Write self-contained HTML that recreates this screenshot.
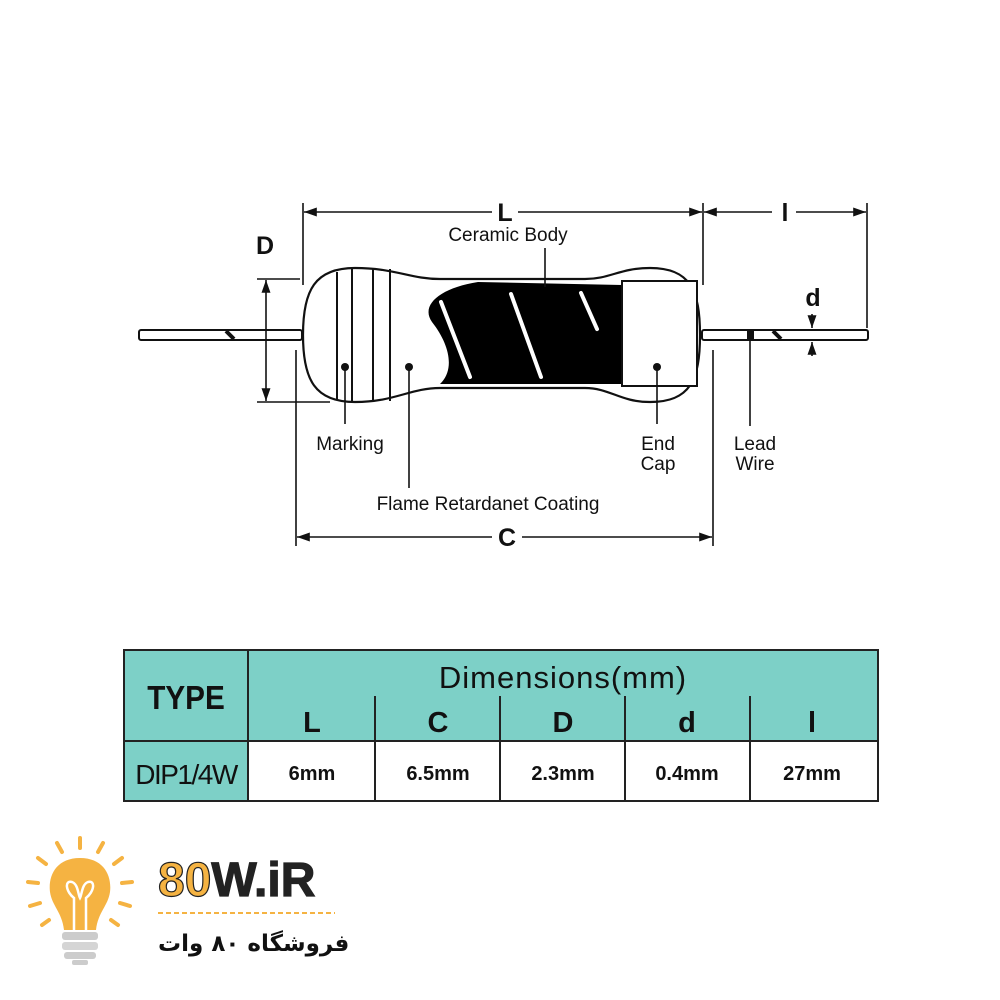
<!DOCTYPE html>
<html><head><meta charset="utf-8"><style>
html,body{margin:0;padding:0;background:#fff;width:1000px;height:1000px;overflow:hidden}
svg{position:absolute;left:0;top:0}
text{font-family:"Liberation Sans",sans-serif;fill:#111}
</style></head><body>
<svg width="1000" height="1000" viewBox="0 0 1000 1000" xmlns="http://www.w3.org/2000/svg">
<defs>
<marker id="ar" viewBox="0 0 10 10" refX="10" refY="5" markerWidth="8" markerHeight="8" orient="auto-start-reverse"><path d="M0,1.5 L10,5 L0,8.5 Z" fill="#111"/></marker>
</defs>
<g stroke="#111" stroke-width="2" fill="none">
<rect x="139" y="330" width="163" height="10" rx="2" fill="#fff"/>
<rect x="702" y="330" width="166" height="10" rx="2" fill="#fff"/>
<path d="M303,335 C303,290 315,268 355,268 C395,268 410,279 440,279 L585,279 C610,279 620,268 650,268 C690,268 700,290 700,335 C700,380 690,402 650,402 C620,402 610,388 585,388 L440,388 C410,388 395,402 355,402 C315,402 303,380 303,335 Z" fill="#fff" stroke-width="2.2"/>
<line x1="337" y1="272" x2="337" y2="399"/>
<line x1="352" y1="269" x2="352" y2="401"/>
<line x1="373" y1="268" x2="373" y2="402"/>
<line x1="390" y1="269" x2="390" y2="401"/>
</g>
<path d="M478,282 L622,285 L622,384 L440,384 C455,370 450,345 432,322 C420,305 440,288 478,282 Z" fill="#000"/>
<rect x="622" y="281" width="75" height="105" fill="#fff" stroke="#111" stroke-width="2"/>
<g stroke="#fff" stroke-width="4" stroke-linecap="round">
<line x1="441" y1="302" x2="470" y2="377"/>
<line x1="511" y1="294" x2="541" y2="377"/>
<line x1="581" y1="293" x2="597" y2="329"/>
</g>
<path d="M226,331 L234,339" stroke="#111" stroke-width="4"/>
<path d="M773,331 L781,339" stroke="#111" stroke-width="4"/>
<rect x="747" y="330" width="7" height="10" fill="#111"/>
<g stroke="#111" stroke-width="1.6" fill="none">
<line x1="303" y1="203" x2="303" y2="285"/>
<line x1="703" y1="203" x2="703" y2="285"/>
<line x1="867" y1="203" x2="867" y2="328"/>
<line x1="304" y1="212" x2="492" y2="212" marker-start="url(#ar)"/>
<line x1="518" y1="212" x2="702" y2="212" marker-end="url(#ar)"/>
<line x1="704" y1="212" x2="772" y2="212" marker-start="url(#ar)"/>
<line x1="796" y1="212" x2="866" y2="212" marker-end="url(#ar)"/>
<line x1="257" y1="279" x2="300" y2="279"/>
<line x1="257" y1="402" x2="330" y2="402"/>
<line x1="266" y1="280" x2="266" y2="401" marker-start="url(#ar)" marker-end="url(#ar)"/>
<line x1="296" y1="350" x2="296" y2="546"/>
<line x1="713" y1="350" x2="713" y2="546"/>
<line x1="297" y1="537" x2="492" y2="537" marker-start="url(#ar)"/>
<line x1="522" y1="537" x2="712" y2="537" marker-end="url(#ar)"/>
<line x1="812" y1="314" x2="812" y2="328" marker-end="url(#ar)"/>
<line x1="812" y1="356" x2="812" y2="342" marker-end="url(#ar)"/>
<line x1="545" y1="248" x2="545" y2="287"/>
<line x1="345" y1="367" x2="345" y2="424"/>
<line x1="409" y1="367" x2="409" y2="488"/>
<line x1="657" y1="367" x2="657" y2="424"/>
<line x1="750" y1="340" x2="750" y2="426"/>
</g>
<g fill="#111"><circle cx="345" cy="367" r="4"/><circle cx="409" cy="367" r="4"/><circle cx="657" cy="367" r="4"/></g>
<g font-size="25" font-weight="bold" text-anchor="middle">
<text x="505" y="221">L</text><text x="785" y="221">l</text>
<text x="265" y="254">D</text><text x="813" y="306">d</text>
<text x="507" y="546">C</text>
</g>
<g font-size="19" text-anchor="middle">
<text x="508" y="241">Ceramic Body</text>
<text x="350" y="450">Marking</text>
<text x="488" y="510">Flame Retardanet Coating</text>
<text x="658" y="450">End</text><text x="658" y="470">Cap</text>
<text x="755" y="450">Lead</text><text x="755" y="470">Wire</text>
</g>
<rect x="124" y="650" width="754" height="151" fill="#7dd0c7"/>
<rect x="248" y="741" width="630" height="60" fill="#fff"/>
<g stroke="#222" stroke-width="2" fill="none">
<rect x="124" y="650" width="754" height="151"/>
<line x1="248" y1="650" x2="248" y2="801"/>
<line x1="124" y1="741" x2="878" y2="741"/>
<line x1="375" y1="696" x2="375" y2="801"/>
<line x1="500" y1="696" x2="500" y2="801"/>
<line x1="625" y1="696" x2="625" y2="801"/>
<line x1="750" y1="696" x2="750" y2="801"/>
</g>
<g text-anchor="middle">
<text x="186" y="709" font-size="33" font-weight="bold" transform="translate(186 0) scale(0.9 1) translate(-186 0)">TYPE</text>
<text x="563" y="688" font-size="31" letter-spacing="1">Dimensions(mm)</text>
<g font-size="29" font-weight="bold">
<text x="312" y="732">L</text>
<text x="438" y="732">C</text>
<text x="563" y="732">D</text>
<text x="687" y="732">d</text>
<text x="812" y="732">l</text>
</g>
<text x="186" y="784" font-size="28" letter-spacing="-1.5">DIP1/4W</text>
<g font-size="20" font-weight="bold">
<text x="312" y="780">6mm</text><text x="438" y="780">6.5mm</text><text x="563" y="780">2.3mm</text><text x="687" y="780">0.4mm</text><text x="812" y="780">27mm</text>
</g>
</g>
<g stroke="#f5b342" stroke-width="4" stroke-linecap="round">
<line x1="80" y1="838" x2="80" y2="848"/>
<line x1="57" y1="843" x2="62" y2="852"/>
<line x1="103" y1="843" x2="98" y2="852"/>
<line x1="38" y1="858" x2="46" y2="864"/>
<line x1="122" y1="858" x2="114" y2="864"/>
<line x1="28" y1="882" x2="38" y2="883"/>
<line x1="132" y1="882" x2="122" y2="883"/>
<line x1="30" y1="906" x2="40" y2="903"/>
<line x1="130" y1="906" x2="120" y2="903"/>
<line x1="42" y1="925" x2="49" y2="920"/>
<line x1="118" y1="925" x2="111" y2="920"/>
</g>
<path d="M80,858 C56,858 48,876 50,892 C52,906 62,912 64,930 L96,930 C98,912 108,906 110,892 C112,876 104,858 80,858 Z" fill="#f5b342"/>
<path d="M74,930 L74,898 C66,892 64,880 72,882 C78,884 78,894 80,898 C82,894 82,884 88,882 C96,880 94,892 86,898 L86,930" stroke="#fff" stroke-width="2.5" fill="none"/>
<rect x="62" y="932" width="36" height="8" rx="3" fill="#ccc"/>
<rect x="62" y="942" width="36" height="8" rx="3" fill="#d5d5d5"/>
<rect x="64" y="952" width="32" height="7" rx="3" fill="#ccc"/>
<rect x="72" y="960" width="16" height="5" rx="2" fill="#ccc"/>
<text x="158" y="896" font-size="48" font-weight="bold" stroke="#222" stroke-width="1.2"><tspan fill="#f5b342">80</tspan><tspan fill="#222">W.iR</tspan></text>
<line x1="158" y1="913" x2="335" y2="913" stroke="#f5b342" stroke-width="2" stroke-dasharray="5,3"/>
<text x="158" y="951" font-size="23" font-weight="bold" text-anchor="start" style="font-family:'DejaVu Sans',sans-serif">فروشگاه ۸۰ وات</text>
</svg>
</body></html>
